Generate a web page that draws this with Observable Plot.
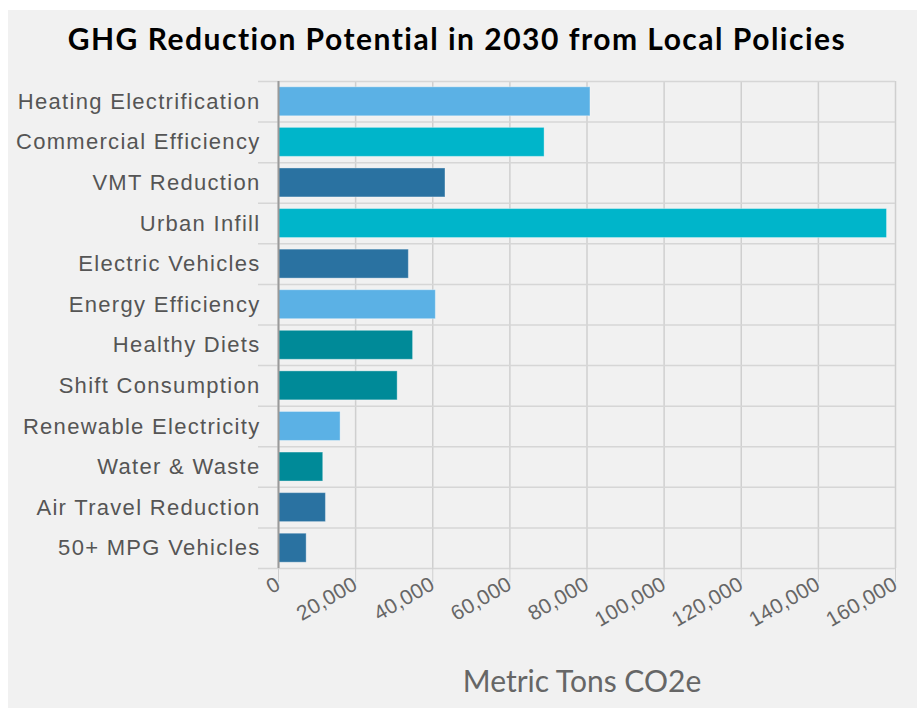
<!DOCTYPE html>
<html>
<head>
<meta charset="utf-8">
<script src="https://cdn.jsdelivr.net/npm/d3@7"></script>
<script src="https://cdn.jsdelivr.net/npm/@observablehq/plot@0.6"></script>
<style>
  html, body { margin: 0; padding: 0; background: #ffffff; width: 917px; height: 709px; overflow: hidden; }
  #panel { position: absolute; left: 8px; top: 10px; width: 909px; height: 698px; background: #f1f1f1; }
  #title { position: absolute; left: 0; top: 20px; width: 914px; text-align: center;
           font-family: Lato, "Open Sans", sans-serif; font-weight: 700; font-size: 30px; letter-spacing: 1.5px;
           color: #000; line-height: 36px; }
  #chart { position: absolute; left: 0; top: 66px; line-height: 0; }
  #chart g[aria-label="y-axis tick label"] text { letter-spacing: 1.3px; }
  #chart g[aria-label="x-axis tick label"] text { letter-spacing: 0.3px; }
  #xlabel { position: absolute; left: 382px; width: 400px; top: 662px; text-align: center;
            font-family: Lato, "Open Sans", sans-serif; font-weight: 400; font-size: 30px; color: #666; line-height: 36px; }
</style>
</head>
<body>
<div id="panel"></div>
<div id="title">GHG Reduction Potential in 2030 from Local Policies</div>
<div id="chart"></div>
<div id="xlabel">Metric Tons CO2e</div>
<script>
const categories = [
  "Heating Electrification", "Commercial Efficiency", "VMT Reduction", "Urban Infill",
  "Electric Vehicles", "Energy Efficiency", "Healthy Diets", "Shift Consumption",
  "Renewable Electricity", "Water & Waste", "Air Travel Reduction", "50+ MPG Vehicles"
];
const values = [80900, 69000, 43300, 157800, 33800, 40800, 34900, 30900, 16100, 11600, 12300, 7300];
const groups = ["light", "cyan", "dark", "cyan", "dark", "light", "teal", "teal", "light", "teal", "dark", "dark"];
const xTicks = [0, 20000, 40000, 60000, 80000, 100000, 120000, 140000, 160000];

const groupDomain = ["light", "cyan", "dark", "teal"];
const groupColors = ["#5bb1e5", "#00b5ca", "#2a72a1", "#008a98"];

const data = categories.map((c, i) => ({ category: c, value: values[i], group: groups[i] }));

const width = 917, height = 584, marginTop = 15, marginBottom = 82, marginLeft = 278, marginRight = 22;
const step = (height - marginTop - marginBottom) / categories.length;

const plot = Plot.plot({
  width, height, marginTop, marginBottom, marginLeft, marginRight,
  style: { background: "transparent", fontFamily: "'Liberation Sans', Arial, sans-serif", overflow: "visible" },
  x: { domain: [0, 160000] },
  y: { domain: categories, padding: 0, round: false },
  color: { domain: groupDomain, range: groupColors },
  marks: [
    Plot.gridX(xTicks, { stroke: "#cfcfcf", strokeOpacity: 1, strokeWidth: 1.5 }),
    Plot.ruleY(categories, { y: d => d, dy: -step / 2, stroke: "#d6d6d6", strokeWidth: 1.5, insetLeft: -20 }),
    Plot.ruleY(categories.slice(-1), { y: d => d, dy: step / 2, stroke: "#d6d6d6", strokeWidth: 1.5, insetLeft: -20 }),
    Plot.barX(data, { y: "category", x: "value", fill: "group", insetTop: 5.8, insetBottom: 5.8,
      stroke: "#ffffff", strokeOpacity: 0.35, strokeWidth: 1 }),
    Plot.ruleX([0], { stroke: "#9a9a9a", strokeWidth: 2 }),
    Plot.axisY({ tickSize: 0, tickPadding: 18, label: null, fontSize: 22, fill: "#555" }),
    Plot.axisX(xTicks, { tickSize: 14, stroke: "#cfcfcf", tickRotate: -30, tickPadding: 0,
      tickFormat: d3.format(","), label: null, fontSize: 21, fill: "#666" })
  ]
});
document.getElementById("chart").appendChild(plot);
</script>
</body>
</html>
